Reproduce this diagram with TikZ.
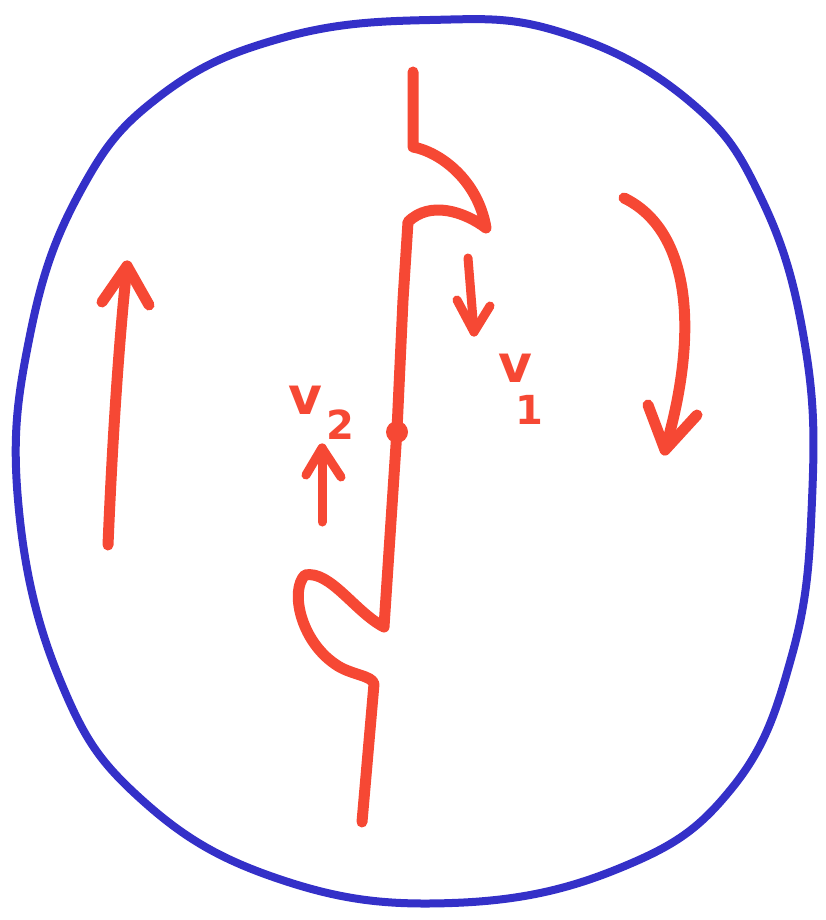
\documentclass[tikz,border=0pt]{standalone}
\usepackage{fontspec}
\setmainfont{DejaVu Sans}
\usetikzlibrary{calc}
\definecolor{pen}{RGB}{246,72,52}
\definecolor{ink}{RGB}{52,48,200}
\tikzset{
  redline/.style={draw=pen, line width=11pt, line cap=round, line join=round},
  blueline/.style={draw=ink, line width=8pt, line cap=round, line join=round},
  lbl/.style={text=pen, font=\fontsize{52}{52}\selectfont\bfseries, inner sep=0pt}
}
\begin{document}
\begin{tikzpicture}[x=1pt,y=-1pt]
\useasboundingbox (0,0) rectangle (826,920);
% boundary circle
\draw[blueline] plot[smooth cycle, tension=0.7] coordinates {
 (430,20) (560,32) (688,100) (762,200) (805,345) (812,500) (792,655)
 (732,788) (620,868) (452,903) (282,880) (142,800) (60,680) (18,500)
 (30,335) (80,192) (160,96) (282,38)};
% main strand with kinks
\draw[redline] (413,72) -- (413,147)
  .. controls (440,152) and (478,180) .. (486,228)
  .. controls (465,212) and (430,200) .. (408,222)
  -- (403,300) -- (397,430) -- (384,627)
  .. controls (355,612) and (330,570) .. (305,575)
  .. controls (290,590) and (300,640) .. (335,664)
  .. controls (350,675) and (372,675) .. (374,684)
  -- (362,822);
% marked point
\node[circle, fill=pen, minimum size=22pt, inner sep=0pt] (dot) at (397,432) {};
% left arrow
\coordinate (la0) at (108,545);
\coordinate (la1) at (127,266);
\draw[redline] (la0) .. controls (112,450) and (118,350) .. (la1);
\draw[redline] (102,302) -- (la1) -- (149,305);
% right curved arrow
\coordinate (ra0) at (624,198);
\coordinate (ra1) at (665,450);
\draw[redline] (ra0) .. controls (690,230) and (700,330) .. (ra1);
\draw[redline] (648,405) -- (ra1) -- (697,415);
% v1 small arrow
\coordinate (a1s) at (468,258);
\coordinate (a1e) at (474,332);
\draw[redline, line width=9pt] (a1s) -- (a1e);
\draw[redline, line width=9pt] (457,300) -- (a1e) -- (490,306);
\node[lbl] (v1) at (515,368) {v};
\node[lbl, font=\fontsize{40}{40}\selectfont\bfseries] (n1) at (529,410) {1};
% v2 small arrow
\coordinate (a2s) at (322,522);
\coordinate (a2e) at (322,448);
\draw[redline, line width=9pt] (a2s) -- (a2e);
\draw[redline, line width=9pt] (306,475) -- (a2e) -- (341,477);
\node[lbl] (v2) at (305,400) {v};
\node[lbl, font=\fontsize{40}{40}\selectfont\bfseries] (n2) at (340,425) {2};
\end{tikzpicture}
\end{document}
